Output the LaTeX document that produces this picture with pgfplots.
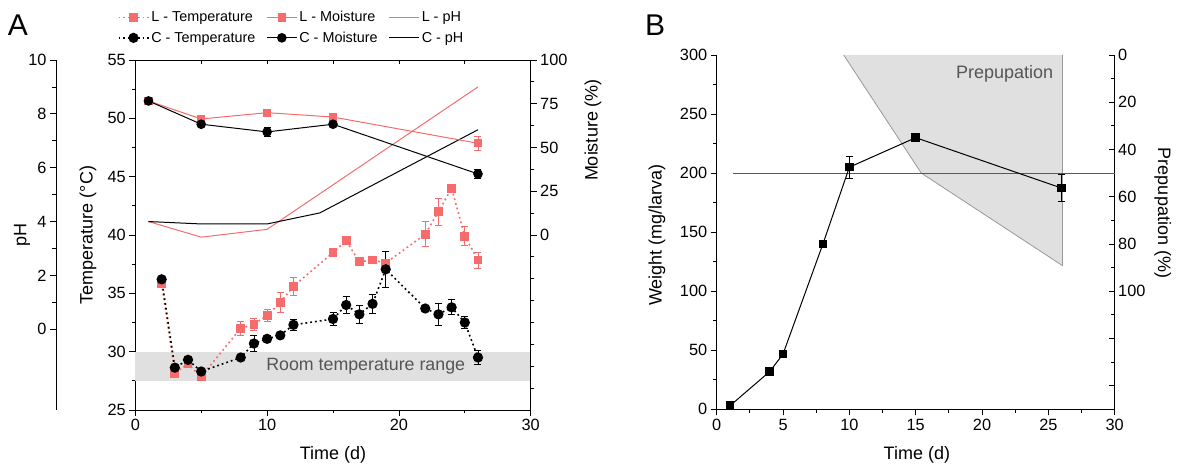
\documentclass[border=0pt]{standalone}
\usepackage{fontspec}
\setmainfont{Liberation Sans}
\usepackage{pgfplots}
\pgfplotsset{compat=1.18}

\definecolor{lred}{RGB}{246,108,108}
\definecolor{bandgray}{RGB}{224,224,224}
\definecolor{txtgray}{RGB}{85,85,85}

\pgfplotsset{
  base/.style={
    scale only axis, clip=false,
    tick align=outside,
    major tick length=6pt, minor tick length=3.5pt,
    every tick/.style={black, line width=0.8pt},
    axis line style={line width=0.9pt},
    tick label style={font=\fontsize{16.3}{18}\selectfont},
    label style={font=\fontsize{18}{20}\selectfont},
    /pgf/number format/assume math mode=true,
  },
  errs/.style={error bars/y dir=both, error bars/y explicit,
    error bars/error bar style={solid, line width=0.8pt},
    error bars/error mark options={rotate=90, mark size=3.5pt, line width=0.8pt, solid}},
  tdot/.style={line width=1.6pt, dash pattern=on 1.8pt off 3pt, mark options={solid}},
  legend image code/.code={
    \draw[mark repeat=2,mark phase=2,#1] plot coordinates {(0pt,0pt) (15pt,0pt) (30pt,0pt)};
  },
}

\begin{document}
\begin{tikzpicture}
\path[use as bounding box] (0,0) rectangle (1184pt,468pt);

% ---------- Panel A: pH axis (outermost left) ----------
\begin{axis}[base, at={(56pt,58pt)}, anchor=south west,
  width=474.7pt, height=350pt,
  xmin=-6.017, xmax=30, hide x axis, axis y line*=left,
  ymin=-3, ymax=10, ytick={0,2,...,10}, minor ytick={1,3,...,9},
  ylabel={pH}, ylabel style={at={(axis description cs:-0.0716,0.5)}, anchor=center}]
  \addplot[lred, line width=1pt] coordinates {(1,4.0) (5,3.42) (10,3.71) (26,9.0)};
  \addplot[black, line width=1pt] coordinates {(1,4.0) (5,3.91) (10,3.91) (14,4.32) (26,7.41)};
\end{axis}

% ---------- Panel A: temperature axis ----------
\begin{axis}[base, at={(135.3pt,58pt)}, anchor=south west,
  width=395.4pt, height=350pt,
  xmin=0, xmax=30, ymin=25, ymax=55,
  xtick pos=bottom, ytick pos=left,
  xtick={0,10,20,30}, minor xtick={5,15,25},
  ytick={25,30,...,55}, minor ytick={27.5,32.5,...,52.5},
  xlabel={Time (d)}, xlabel style={at={(axis description cs:0.5,-0.1286)}, anchor=center},
  ylabel={Temperature (°C)}, ylabel style={at={(axis description cs:-0.1196,0.5)}, anchor=center},
  legend columns=3,
  legend style={draw=none, fill=none, font=\fontsize{14.4}{16}\selectfont,
    at={(axis description cs:-0.045,1.145)}, anchor=north west,
    /tikz/every even column/.append style={column sep=9pt},
    row sep=4.5pt, inner sep=0pt},
  legend cell align=left]
  \addlegendimage{lred, tdot, mark=square*, mark size=3.6pt}
  \addlegendentry{L - Temperature}
  \addlegendimage{lred, line width=1pt, mark=square*, mark size=3.6pt}
  \addlegendentry{L - Moisture}
  \addlegendimage{lred, line width=1pt}
  \addlegendentry{L - pH}
  \addlegendimage{black, tdot, mark=*, mark size=4.3pt}
  \addlegendentry{C - Temperature}
  \addlegendimage{black, line width=1pt, mark=*, mark size=4.3pt}
  \addlegendentry{C - Moisture}
  \addlegendimage{black, line width=1pt}
  \addlegendentry{C - pH}

  % room temperature band
  \addplot[draw=none, fill=bandgray, forget plot] coordinates {(0,27.45) (30,27.45) (30,30) (0,30)} -- cycle;
  \node[txtgray, font=\fontsize{17.8}{20}\selectfont] at (axis cs:17.48,28.72) {Room temperature range};

  % L - Temperature
  \addplot[lred, tdot, mark=square*, mark size=3.6pt, forget plot, errs] coordinates {
    (2,35.8) +- (0,0.3) (3,28.15) +- (0,0.2) (4,28.95) +- (0,0.2) (5,27.86) +- (0,0.2)
    (8,32.0) +- (0,0.57) (9,32.35) +- (0,0.5) (10,33.1) +- (0,0.5) (11,34.2) +- (0,0.87)
    (12,35.6) +- (0,0.8) (15,38.5) +- (0,0.2) (16,39.5) +- (0,0.3) (17,37.7) +- (0,0.2)
    (18,37.86) +- (0,0.2) (19,37.6) +- (0,0.2) (22,40.06) +- (0,1.07) (23,42.0) +- (0,1.16)
    (24,44.0) +- (0,0.2) (25,39.9) +- (0,0.83) (26,37.86) +- (0,0.69)};

  % C - Temperature
  \addplot[black, tdot, mark=*, mark size=4.3pt, forget plot, errs] coordinates {
    (2,36.2) +- (0,0.2) (3,28.63) +- (0,0.2) (4,29.3) +- (0,0.2) (5,28.3) +- (0,0.2)
    (8,29.5) +- (0,0.2) (9,30.7) +- (0,0.67) (10,31.1) +- (0,0.2) (11,31.4) +- (0,0.2)
    (12,32.3) +- (0,0.5) (15,32.8) +- (0,0.58) (16,34.0) +- (0,0.71) (17,33.2) +- (0,0.77)
    (18,34.1) +- (0,0.81) (19,37.06) +- (0,1.53) (22,33.7) +- (0,0.2) (23,33.2) +- (0,0.91)
    (24,33.8) +- (0,0.64) (25,32.5) +- (0,0.53) (26,29.5) +- (0,0.61)};
\end{axis}

% ---------- Panel A: moisture axis (right) ----------
\begin{axis}[base, at={(135.3pt,58pt)}, anchor=south west,
  width=395.4pt, height=350pt,
  xmin=0, xmax=30, hide x axis, axis y line*=right,
  ymin=-100, ymax=100, ytick={0,25,...,100}, minor ytick={-87.5,-75,...,87.5},
  ylabel={Moisture (\%)}, ylabel style={at={(axis description cs:1.1576,0.8)}, anchor=center}]
  \addplot[lred, line width=1pt, mark=square*, mark size=3.6pt, errs] coordinates {
    (1,76.6) +- (0,0.5) (5,66.3) +- (0,1) (10,69.9) +- (0,1) (15,67.4) +- (0,1) (26,52.4) +- (0,3.8)};
  \addplot[black, line width=1pt, mark=*, mark size=4.3pt, errs] coordinates {
    (1,76.6) +- (0,0.5) (5,63.3) +- (0,1) (10,58.9) +- (0,2.3) (15,63.3) +- (0,1) (26,34.9) +- (0,2.6)};
\end{axis}

% ---------- Panel A: inner ticks on top edge ----------
\begin{axis}[base, at={(135.3pt,58pt)}, anchor=south west,
  width=395.4pt, height=350pt,
  xmin=0, xmax=30, ymin=0, ymax=1, hide y axis, axis x line*=top,
  tick align=inside, major tick length=4pt,
  xtick={0,5,...,30}, xticklabels={}]
\end{axis}

% ---------- Panel B: prepupation axis (right, reversed) ----------
\begin{axis}[base, at={(716.7pt,58.7pt)}, anchor=south west,
  width=398pt, height=354.3pt,
  xmin=0, xmax=30, hide x axis, axis y line*=right,
  y dir=reverse, ymin=0, ymax=150, tick align=inside,
  ytick={0,20,...,140}, yticklabels={0,20,40,60,80,100,,},
  minor ytick={10,30,...,130},
  ylabel={Prepupation (\%)}, ylabel style={at={(axis description cs:1.121,0.554)}, anchor=center, rotate=180}]
  \addplot[draw=none, fill=bandgray] coordinates {(9.57,0) (15.42,50) (26.07,89.2) (26.07,0)} -- cycle;
  \addplot[gray!80, line width=0.8pt] coordinates {(9.57,0) (15.42,50) (26.07,89.2) (26.07,0)};
  \addplot[black!65, line width=1.1pt] coordinates {(1.24,50) (30,50)};
  \node[txtgray, font=\fontsize{18}{20}\selectfont] at (axis cs:21.7,7.8) {Prepupation};
\end{axis}

% ---------- Panel B: weight axis ----------
\begin{axis}[base, at={(716.7pt,58.7pt)}, anchor=south west,
  width=398pt, height=354.3pt,
  xmin=0, xmax=30, ymin=0, ymax=300,
  axis x line*=bottom, axis y line*=left,
  xtick={0,5,...,30}, minor xtick={2.5,7.5,...,27.5},
  ytick={0,50,...,300}, minor ytick={25,75,...,275},
  xlabel={Time (d)}, xlabel style={at={(axis description cs:0.503,-0.129)}, anchor=center},
  ylabel={Weight (mg/larva)}, ylabel style={at={(axis description cs:-0.15,0.492)}, anchor=center}]
  \addplot[black, line width=1pt, mark=square*, mark size=3.8pt, errs] coordinates {
    (1,3) +- (0,0.5) (4,32) +- (0,2) (5,46.8) +- (0,2) (8,139.8) +- (0,1)
    (10,205) +- (0,9.5) (15,230) +- (0,1) (26,187.3) +- (0,11.6)};
\end{axis}

\node[font=\fontsize{30}{32}\selectfont] at (18pt,443pt) {A};
\node[font=\fontsize{30}{32}\selectfont] at (655pt,443pt) {B};
\end{tikzpicture}
\end{document}
